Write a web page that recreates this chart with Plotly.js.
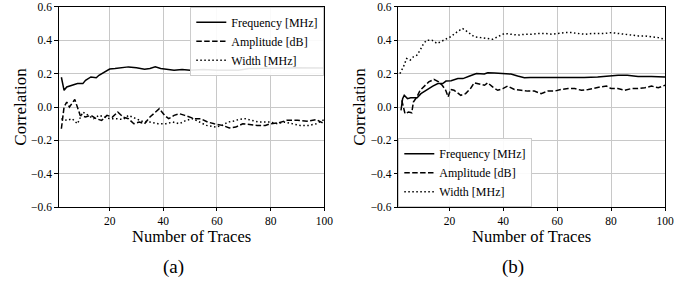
<!DOCTYPE html>
<html>
<head>
<meta charset="utf-8">
<script src="https://cdn.plot.ly/plotly-3.0.1.min.js"></script>
<style>html,body{margin:0;padding:0;background:#fff;}#chart{width:699px;height:282px;}</style>
</head>
<body>
<div id="chart"></div>
<script>
// ---- Data ----
var seriesNames = ["Frequency [MHz]", "Amplitude [dB]", "Width [MHz]"];
var panelLabels = ["(a)", "(b)"];
var xTitle = "Number of Traces";
var yTitle = "Correlation";
var yTickVals = [-0.6, -0.4, -0.2, 0.0, 0.2, 0.4, 0.6];
var xTickVals = [20, 40, 60, 80, 100];

// Panel (a)
var freqXA = [2,3,4,6,8,10,11,13,15,16,18,20,22,25,27,30,33,35,37,39,41,44,47,50,55,60,65,68,72,76,80,85,90,95,100];
var freqYA = [0.178,0.10,0.12,0.13,0.14,0.14,0.16,0.18,0.175,0.19,0.21,0.227,0.23,0.235,0.24,0.235,0.226,0.23,0.24,0.23,0.227,0.22,0.225,0.22,0.225,0.22,0.22,0.22,0.23,0.23,0.233,0.233,0.235,0.235,0.233];
var ampXA = [2,3,4,5,7,9,11,13,15,17,19,21,23,25,27,29,31,33,35,37,38.5,40.5,42,44,46,48,51.5,54,56.5,59,62,64.6,67,69.6,72,75,78,80,83,86,90,93.6,97,100];
var ampYA = [-0.13,0.0,0.03,0.0,0.045,-0.05,-0.06,-0.05,-0.07,-0.08,-0.05,-0.06,-0.03,-0.06,-0.07,-0.1,-0.09,-0.1,-0.06,-0.03,-0.01,-0.05,-0.07,-0.05,-0.04,-0.05,-0.07,-0.07,-0.09,-0.1,-0.11,-0.125,-0.12,-0.1,-0.105,-0.11,-0.11,-0.1,-0.095,-0.08,-0.08,-0.085,-0.075,-0.1];
var widXA = [2,4,6,8,10,12,14,16,18,20,22.5,25,27,30,32,35,38,41,43.5,46,48.5,51,53.5,56,59.5,62,64,66,68,70.5,73,75.5,80,82.5,85,88,91,94.4,97,100];
var widYA = [-0.07,-0.08,-0.07,-0.1,-0.03,-0.05,-0.07,-0.05,-0.06,-0.07,-0.07,-0.075,-0.05,-0.07,-0.085,-0.09,-0.1,-0.1,-0.09,-0.1,-0.08,-0.07,-0.09,-0.11,-0.12,-0.11,-0.09,-0.085,-0.075,-0.07,-0.08,-0.09,-0.09,-0.1,-0.09,-0.1,-0.11,-0.11,-0.1,-0.075];

// Panel (b)
var freqXB = [2,2.6,3.2,4.4,5.6,6.9,8,9.4,11.3,13.8,15.7,17.5,18.7,20.6,23.1,25,27.5,30,32.9,34.2,36.7,40.3,42.8,45.3,47.8,50,55,60,65,70,75,78,82.6,86,90,95,100];
var freqYB = [-0.02,0.05,0.07,0.05,0.055,0.055,0.055,0.08,0.10,0.125,0.14,0.14,0.155,0.157,0.17,0.17,0.185,0.2,0.197,0.205,0.203,0.2,0.197,0.185,0.175,0.177,0.177,0.175,0.175,0.177,0.18,0.185,0.19,0.19,0.183,0.183,0.18];
var ampXB = [2.3,3.5,4.8,6,6.6,7.9,9.1,10.4,12.3,14.2,16,17.3,18.6,19.5,20.4,21.7,24.2,26,28,29.2,31,33,34.2,36,37.9,39.8,41.6,44.1,46.6,49,51.5,54,56.5,59,61.5,64,66.5,69,71.5,74,76,78.3,80,82.5,85,87.5,90,92.5,95,97.5,100];
var ampYB = [0.04,-0.04,-0.03,-0.035,0.03,0.06,0.1,0.12,0.15,0.165,0.15,0.13,0.1,0.06,0.105,0.1,0.07,0.08,0.115,0.145,0.14,0.13,0.145,0.12,0.1,0.11,0.125,0.105,0.1,0.095,0.095,0.08,0.095,0.095,0.105,0.11,0.11,0.1,0.105,0.115,0.12,0.125,0.11,0.11,0.1,0.11,0.11,0.115,0.125,0.115,0.13];
var widXB = [1.6,2.9,4.1,5.4,6.6,7.9,9.1,10.4,11.6,13.5,15.4,17.9,20.4,22.9,24.8,26.7,29.2,31.7,34.2,36,37.9,40.4,42.9,45.4,47.9,50.4,52.9,55.4,57.9,60.4,62.7,65.2,67.7,70.2,72.7,75.1,77.6,80.1,82.6,85,87.6,90.1,92.6,95,97.5,100];
var widYB = [0.2,0.24,0.29,0.28,0.30,0.31,0.34,0.38,0.40,0.40,0.38,0.40,0.42,0.45,0.47,0.45,0.42,0.415,0.41,0.405,0.42,0.44,0.435,0.43,0.435,0.435,0.44,0.44,0.435,0.44,0.445,0.445,0.44,0.435,0.44,0.44,0.44,0.445,0.44,0.435,0.43,0.425,0.425,0.42,0.415,0.405];

// ---- Styling ----
var FONT = "Liberation Serif, DejaVu Serif, serif";
var dashes = ["solid", "5.5px,2.4px", "1.5px,2.5px"];

function mk(x, y, i, xa, ya, leg) {
  return {
    x: x, y: y, type: "scatter", mode: "lines",
    name: seriesNames[i], xaxis: xa, yaxis: ya, legend: leg,
    line: {color: "#000", width: 1.5, dash: dashes[i]}
  };
}

var traces = [
  mk(freqXA, freqYA, 0, "x", "y", "legend"),
  mk(ampXA, ampYA, 1, "x", "y", "legend"),
  mk(widXA, widYA, 2, "x", "y", "legend"),
  mk(freqXB, freqYB, 0, "x2", "y2", "legend2"),
  mk(ampXB, ampYB, 1, "x2", "y2", "legend2"),
  mk(widXB, widYB, 2, "x2", "y2", "legend2")
];

var W = 699, H = 282;
var yTop = 6.7, yBot = 207.3;
var yDom = [1 - yBot / H, 1 - yTop / H];
var xDomA = [58.7 / W, 324.3 / W];
var xDomB = [398.3 / W, 665 / W];

function xAxis(dom, anchor) {
  return {
    domain: dom, anchor: anchor, range: [1, 100],
    tickvals: xTickVals, ticks: "outside", ticklen: 2.5, tickwidth: 1, tickcolor: "#000",
    showgrid: true, gridcolor: "#c8c8c8", gridwidth: 1,
    showline: true, linecolor: "#000", linewidth: 1, mirror: true,
    zeroline: false, automargin: false,
    tickfont: {family: FONT, size: 11.5, color: "#000"}
  };
}
function yAxis(dom, anchor) {
  return {
    domain: dom, anchor: anchor, range: [-0.6, 0.6],
    tickvals: yTickVals, tickformat: ".1f", ticks: "outside", ticklen: 3.5, tickwidth: 1, tickcolor: "#000",
    showgrid: true, gridcolor: "#c8c8c8", gridwidth: 1,
    showline: true, linecolor: "#000", linewidth: 1, mirror: true,
    zeroline: false, automargin: false,
    tickfont: {family: FONT, size: 11.5, color: "#000"},
    title: {text: yTitle, font: {family: FONT, size: 17, color: "#000"}, standoff: 0}
  };
}

var legendStyle = {
  bgcolor: "rgba(255,255,255,0.9)", bordercolor: "#cccccc", borderwidth: 1,
  font: {family: FONT, size: 12, color: "#000"},
  itemwidth: 30, tracegroupgap: 0
};

function ann(text, x, y, size) {
  return {text: text, xref: "paper", yref: "paper", x: x / W, y: 1 - y / H,
          xanchor: "center", yanchor: "middle", showarrow: false, borderpad: 0,
          font: {family: FONT, size: size, color: "#000"}};
}

var layout = {
  width: W, height: H,
  margin: {l: 0, r: 0, t: 0, b: 0},
  paper_bgcolor: "#fff", plot_bgcolor: "#fff",
  font: {family: FONT, color: "#000"},
  xaxis: xAxis(xDomA, "y"),
  yaxis: yAxis(yDom, "x"),
  xaxis2: xAxis(xDomB, "y2"),
  yaxis2: yAxis(yDom, "x2"),
  legend: Object.assign({}, legendStyle, {x: xDomA[1], xanchor: "right", y: yDom[1], yanchor: "top"}),
  legend2: Object.assign({}, legendStyle, {x: xDomB[0], xanchor: "left", y: yDom[0], yanchor: "bottom"}),
  annotations: [
    ann(xTitle, 191.5, 236.5, 16.5),
    ann(xTitle, 531.5, 236.5, 16.5),
    ann(panelLabels[0], 173, 267, 19),
    ann(panelLabels[1], 513, 267, 19)
  ],
  showlegend: true
};

Plotly.newPlot("chart", traces, layout, {displayModeBar: false, staticPlot: true});
</script>
</body>
</html>
